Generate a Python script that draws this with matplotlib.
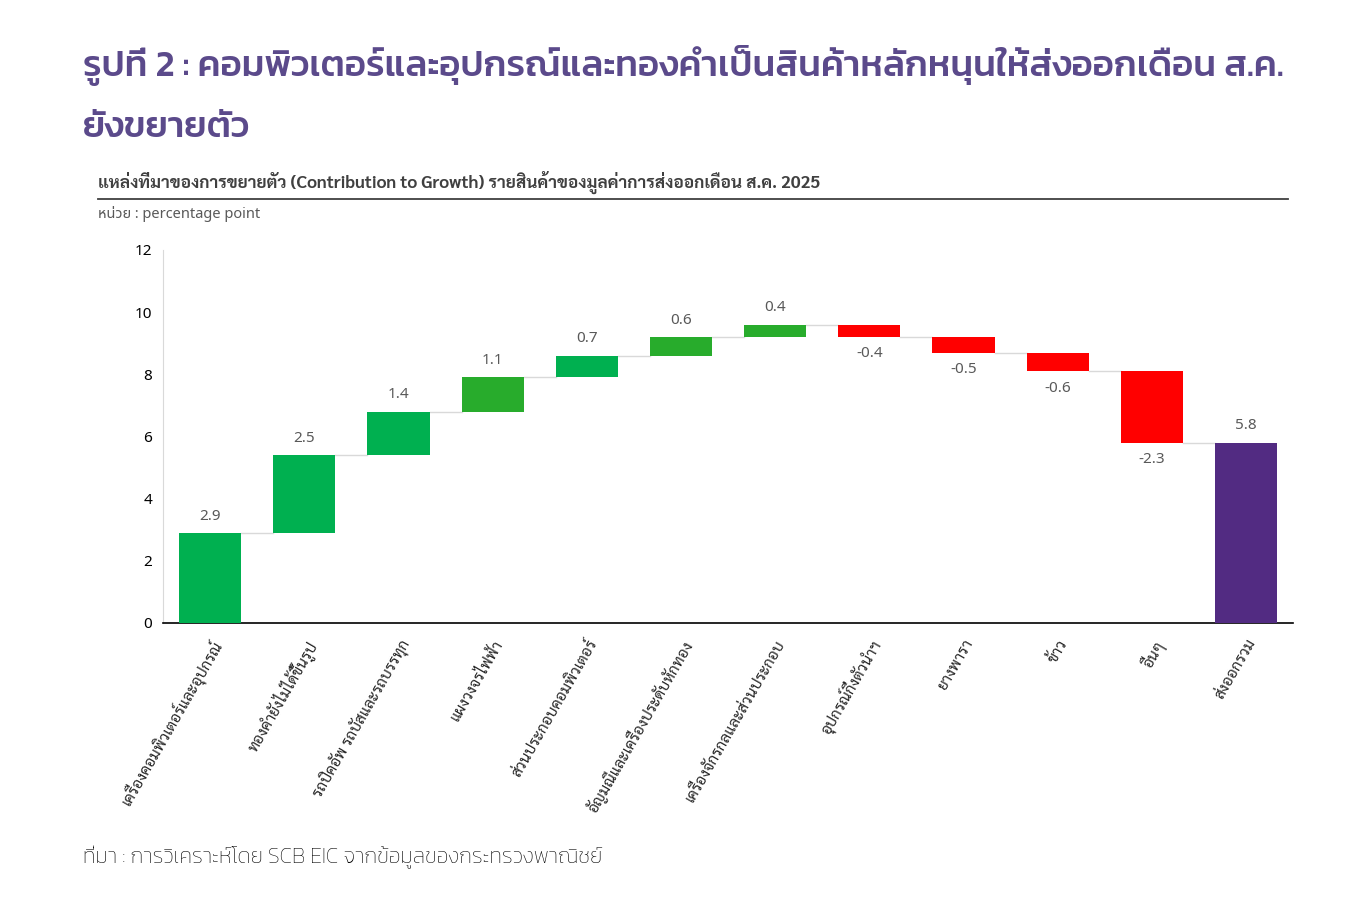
import matplotlib
matplotlib.use("Agg")
import matplotlib.pyplot as plt
import numpy as np

# Chart data
labels = ["เครื่องคอมพิวเตอร์และอุปกรณ์", "ทองคำยังไม่ได้ขึ้นรูป", "รถปิคอัพ รถบัสและรถบรรทุก",
          "แผงวงจรไฟฟ้า", "ส่วนประกอบคอมพิวเตอร์", "อัญมณีและเครื่องประดับหักทอง",
          "เครื่องจักรกลและส่วนประกอบ", "อุปกรณ์กึ่งตัวนำฯ", "ยางพารา", "ข้าว", "อื่นๆ", "ส่งออกรวม"]
values = [2.9, 2.5, 1.4, 1.1, 0.7, 0.6, 0.4, -0.4, -0.5, -0.6, -2.3, 5.8]
colors = ["#00B050", "#00B050", "#00B050", "#28AC2C", "#00B050", "#28AC2C",
          "#28AC2C", "#FF0000", "#FF0000", "#FF0000", "#FF0000", "#522B82"]
yticks = [0, 2, 4, 6, 8, 10, 12]

TITLE_FONT = ["Kanit", "Prompt", "Loma", "DejaVu Sans"]
SUB_FONT = ["Noto Sans Thai", "Sarabun", "Loma", "DejaVu Sans"]
BOLD_FONT = ["Sarabun", "Loma", "DejaVu Sans"]
TICK_FONT = ["Sarabun", "Noto Sans Thai Looped", "Loma", "DejaVu Sans"]

fig = plt.figure(figsize=(13.53, 9.08), dpi=100)
ax = fig.add_axes([0.1205, 0.3139, 0.8352, 0.4108])

# Waterfall: each step starts where the previous one ended, last bar is the total
x = np.arange(len(values))
bottoms = []
running = 0.0
for i, v in enumerate(values):
    if i == len(values) - 1:
        bottoms.append(0.0)
    elif v >= 0:
        bottoms.append(running)
        running += v
    else:
        running += v
        bottoms.append(running)
heights = [abs(v) for v in values]

ax.bar(x, heights, bottom=bottoms, width=0.66, color=colors, zorder=3)

# connector lines between steps
level = 0.0
for i, v in enumerate(values[:-1]):
    level += v
    ax.plot([x[i] + 0.33, x[i + 1] - 0.33], [level, level], color="#D9D9D9", lw=1, zorder=2)

# value labels
for i, v in enumerate(values):
    if v >= 0:
        ax.text(x[i], bottoms[i] + heights[i] + 0.3, f"{v:.1f}", ha="center", va="bottom",
                fontsize=11, color="#595959", family=SUB_FONT)
    else:
        ax.text(x[i], bottoms[i] - 0.3, f"{v:.1f}", ha="center", va="top",
                fontsize=11, color="#595959", family=SUB_FONT)

ax.set_xlim(-0.5, len(values) - 0.5)
ax.set_ylim(0, 12)
ax.set_yticks(yticks)
ax.set_yticklabels([str(t) for t in yticks], fontsize=11, family=SUB_FONT)
ax.set_xticks(x)
ax.set_xticklabels(labels, rotation=60, ha="right", rotation_mode="anchor",
                   fontsize=11, family=TICK_FONT, color="#262626")
ax.tick_params(axis="both", length=0)
ax.tick_params(axis="x", pad=10)
ax.tick_params(axis="y", pad=8)
for s in ["top", "right"]:
    ax.spines[s].set_visible(False)
ax.spines["left"].set_color("#D9D9D9")
ax.spines["bottom"].set_color("black")
ax.spines["bottom"].set_linewidth(1.2)

# Titles and notes
fig.text(0.061, 0.928, "รูปที่ 2 : คอมพิวเตอร์และอุปกรณ์และทองคำเป็นสินค้าหลักหนุนให้ส่งออกเดือน ส.ค.",
         fontsize=26.5, color="#5B4A8B", family=TITLE_FONT, weight="medium", va="center")
fig.text(0.061, 0.858, "ยังขยายตัว",
         fontsize=26.5, color="#5B4A8B", family=TITLE_FONT, weight="medium", va="center")
fig.text(0.0725, 0.799, "แหล่งที่มาของการขยายตัว (Contribution to Growth) รายสินค้าของมูลค่าการส่งออกเดือน ส.ค. 2025",
         fontsize=12.4, color="#404040", family=BOLD_FONT, weight="bold", va="center")
fig.add_artist(plt.Line2D([0.0725, 0.952], [0.781, 0.781], color="#404040", lw=1.3))
fig.text(0.0725, 0.764, "หน่วย : percentage point", fontsize=10.5, color="#595959",
         family=SUB_FONT, va="center")
fig.text(0.061, 0.056, "ที่มา : การวิเคราะห์โดย SCB EIC จากข้อมูลของกระทรวงพาณิชย์",
         fontsize=15.5, color="#000000", family=TITLE_FONT, weight="light", va="center")

fig.savefig("out.png", dpi=100)
